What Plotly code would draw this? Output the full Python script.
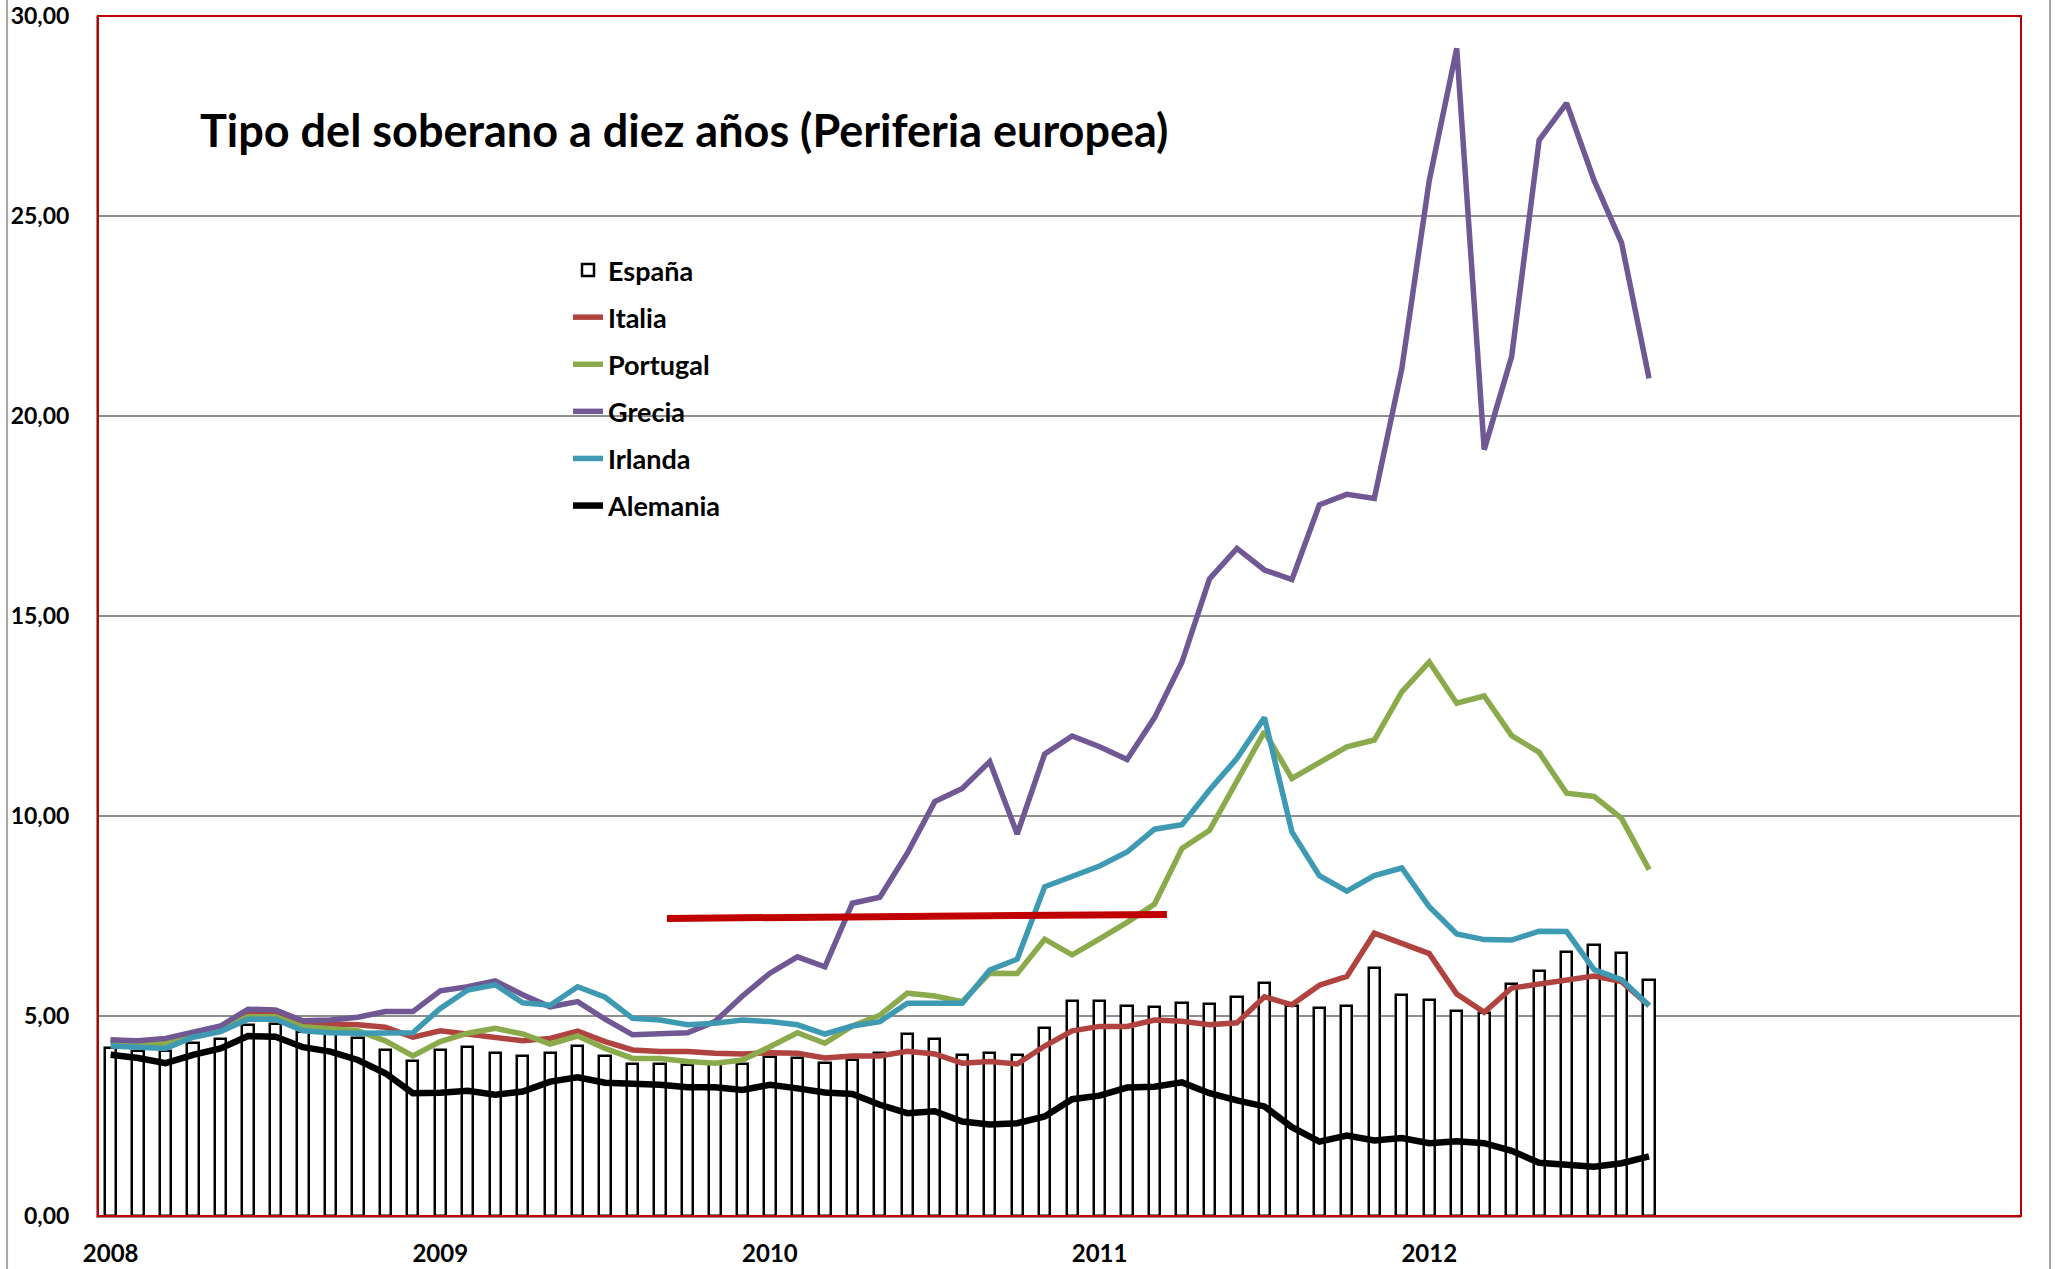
import plotly.graph_objects as go

# ---------------- data ----------------
meses = [f"{a}-{m:02d}" for a in range(2008, 2013) for m in range(1, 13)][:57]

espana = [4.19, 4.13, 4.13, 4.32, 4.43, 4.78, 4.79, 4.61, 4.58, 4.44, 4.16, 3.87,
          4.16, 4.23, 4.07, 4.01, 4.07, 4.25, 4.01, 3.80, 3.81, 3.77, 3.79, 3.80,
          3.98, 3.94, 3.82, 3.89, 4.07, 4.55, 4.42, 4.02, 4.07, 4.02, 4.69, 5.38,
          5.38, 5.26, 5.23, 5.32, 5.31, 5.48, 5.82, 5.26, 5.20, 5.26, 6.19, 5.53,
          5.41, 5.12, 5.07, 5.80, 6.13, 6.59, 6.78, 6.58, 5.91]

italia = [4.40, 4.36, 4.40, 4.52, 4.66, 5.05, 5.05, 4.82, 4.80, 4.78, 4.72, 4.47,
          4.63, 4.55, 4.47, 4.38, 4.44, 4.62, 4.36, 4.15, 4.11, 4.11, 4.07, 4.05,
          4.08, 4.07, 3.95, 4.00, 4.00, 4.12, 4.05, 3.82, 3.86, 3.80, 4.25, 4.63,
          4.74, 4.74, 4.90, 4.87, 4.78, 4.83, 5.48, 5.28, 5.77, 5.99, 7.07, 6.82,
          6.56, 5.55, 5.09, 5.70, 5.80, 5.91, 6.00, 5.86, 5.26]

portugal = [4.33, 4.30, 4.32, 4.52, 4.69, 4.98, 4.98, 4.73, 4.69, 4.63, 4.38, 4.00,
            4.36, 4.57, 4.69, 4.55, 4.30, 4.50, 4.19, 3.94, 3.94, 3.86, 3.82, 3.90,
            4.23, 4.58, 4.32, 4.75, 5.02, 5.57, 5.50, 5.36, 6.07, 6.06, 6.92, 6.53,
            6.93, 7.34, 7.80, 9.19, 9.64, 10.87, 12.11, 10.94, 11.33, 11.73, 11.90, 13.10,
            13.85, 12.82, 13.00, 12.01, 11.59, 10.57, 10.49, 9.94, 8.66]

grecia = [4.40, 4.38, 4.44, 4.58, 4.75, 5.17, 5.15, 4.88, 4.90, 4.97, 5.11, 5.11,
          5.63, 5.73, 5.88, 5.53, 5.23, 5.36, 4.92, 4.53, 4.57, 4.58, 4.86, 5.50,
          6.07, 6.48, 6.23, 7.82, 7.97, 9.07, 10.36, 10.69, 11.36, 9.55, 11.55, 12.00,
          11.73, 11.41, 12.46, 13.85, 15.93, 16.69, 16.15, 15.91, 17.78, 18.04, 17.94, 21.18,
          25.89, 29.19, 19.16, 21.49, 26.90, 27.82, 25.89, 24.33, 20.94]

irlanda = [4.25, 4.22, 4.19, 4.47, 4.61, 4.92, 4.92, 4.63, 4.58, 4.57, 4.58, 4.58,
           5.19, 5.65, 5.78, 5.33, 5.27, 5.73, 5.47, 4.94, 4.90, 4.78, 4.82, 4.90,
           4.86, 4.78, 4.55, 4.75, 4.86, 5.32, 5.32, 5.32, 6.15, 6.42, 8.23, 8.48,
           8.75, 9.10, 9.67, 9.78, 10.65, 11.44, 12.46, 9.60, 8.51, 8.12, 8.51, 8.70,
           7.73, 7.05, 6.91, 6.90, 7.12, 7.11, 6.16, 5.91, 5.26]

alemania = [4.03, 3.95, 3.82, 4.03, 4.19, 4.50, 4.48, 4.22, 4.11, 3.90, 3.57, 3.07,
            3.08, 3.13, 3.03, 3.11, 3.36, 3.47, 3.33, 3.32, 3.28, 3.22, 3.22, 3.15,
            3.28, 3.19, 3.09, 3.05, 2.78, 2.57, 2.62, 2.36, 2.29, 2.32, 2.49, 2.92,
            3.01, 3.21, 3.23, 3.34, 3.07, 2.89, 2.74, 2.22, 1.86, 2.01, 1.89, 1.95,
            1.82, 1.87, 1.82, 1.63, 1.33, 1.28, 1.23, 1.32, 1.49]

# hand-drawn reference line (month index, value)
linea_x = [20.25, 38.45]
linea_y = [7.44, 7.54]

anios = ["2008", "2009", "2010", "2011", "2012"]
titulo = "Tipo del soberano a diez años (Periferia europea)"

# ---------------- figure ----------------
FONT = "Lato, 'Open Sans', sans-serif"
x = list(range(len(meses)))
tickvals = [meses.index(a + "-01") for a in anios]

fig = go.Figure()

fig.add_trace(go.Bar(
    x=x, y=espana, name="España", width=0.41,
    marker=dict(color="white", line=dict(color="black", width=2.5)),
    legendgroup="g1"))

series = [
    ("Italia", italia, "#B0433F", 5.5),
    ("Portugal", portugal, "#8AAA4B", 5.5),
    ("Grecia", grecia, "#6F5893", 5.5),
    ("Irlanda", irlanda, "#3E9AB3", 5.5),
    ("Alemania", alemania, "#000000", 6.5),
]
for i, (nm, vals, col, w) in enumerate(series):
    fig.add_trace(go.Scatter(
        x=x, y=vals, name=nm, mode="lines",
        line=dict(color=col, width=w),
        legendgroup=f"g{i+2}"))

fig.add_trace(go.Scatter(
    x=linea_x, y=linea_y, mode="lines", showlegend=False,
    line=dict(color="#C00000", width=7), hoverinfo="skip"))

fig.add_annotation(
    text=titulo, xref="paper", yref="paper", x=0.052, y=0.905,
    xanchor="left", yanchor="middle", showarrow=False,
    font=dict(family=FONT, size=45, color="black", weight="bold"))

# plot-area border (red) and outer chart frame (grey)
fig.add_shape(type="rect", xref="paper", yref="paper", x0=0, y0=0, x1=1, y1=1,
              line=dict(color="#C00000", width=2), layer="above")
for xp in (-0.0473, 1.0151):
    fig.add_shape(type="line", xref="paper", yref="paper", x0=xp, x1=xp,
                  y0=-0.05, y1=1.02, line=dict(color="#A6A6A6", width=2))

fig.update_layout(
    width=2060, height=1269,
    margin=dict(l=98, r=39, t=16, b=53, autoexpand=False),
    paper_bgcolor="white", plot_bgcolor="white",
    separators=",.",
    bargap=0,
    showlegend=True,
    legend=dict(
        x=(568 - 98) / 1923, y=(1216 - 246) / 1200, xanchor="left", yanchor="top",
        traceorder="grouped", tracegroupgap=9,
        bgcolor="rgba(0,0,0,0)", borderwidth=0,
        font=dict(family=FONT, size=27, color="black", weight="bold")),
    xaxis=dict(
        range=[-0.46, 69.54], tickvals=tickvals, ticktext=anios,
        showgrid=False, zeroline=False, ticks="", automargin=False,
        showline=True, linecolor="#A68A8A", linewidth=2,
        ticklabelstandoff=15,
        tickfont=dict(family=FONT, size=24, color="black", weight="bold")),
    yaxis=dict(
        range=[0, 30], dtick=5, tickformat=".2f", automargin=False,
        showgrid=True, gridcolor="#8E8E8E", gridwidth=2,
        zeroline=False, ticks="",
        showline=True, linecolor="#A68A8A", linewidth=2,
        ticklabelstandoff=22,
        tickfont=dict(family=FONT, size=23, color="black", weight="bold")),
)

fig.write_html("out.html", config={"displayModeBar": False},
               post_script="document.body.style.margin='0';")
